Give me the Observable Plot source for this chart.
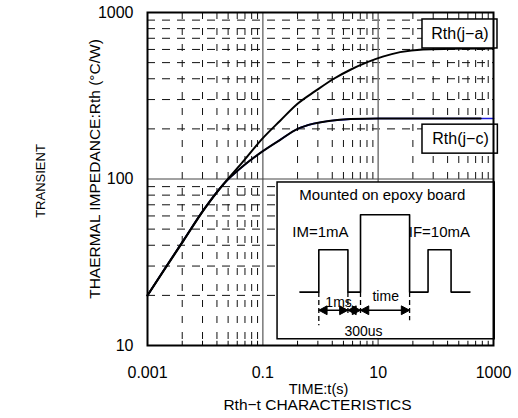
<!DOCTYPE html>
<html><head><meta charset="utf-8">
<script src="https://cdn.jsdelivr.net/npm/d3@7"></script>
<script src="https://cdn.jsdelivr.net/npm/@observablehq/plot@0.6"></script>
<style>html,body{margin:0;padding:0;background:#fff;} svg{display:block;}</style>
</head><body><div id="chart"></div>
<script>
// ---- data ----
const timeJA = [0.001, 0.0019, 0.0042, 0.0094, 0.021, 0.046, 0.1, 0.2, 0.4, 0.82, 1.7, 3.3, 6.5, 12, 24, 60, 180, 1000];
const rthJA  = [20, 28, 42.5, 65, 93.5, 128, 176, 224, 283, 338, 400, 453, 503, 543, 578, 600, 605, 608];
const timeJC = [0.001, 0.0019, 0.0042, 0.0094, 0.021, 0.046, 0.1, 0.2, 0.4, 0.76, 1.5, 3.3, 10, 100, 600];
const rthJC  = [20, 28.2, 42.8, 65.3, 93.5, 120, 147, 172, 200, 215, 224, 229, 231, 231, 231];
const timeJCext = [600, 1000];
const rthJCext  = [231, 231];

const xTicks = [0.001, 0.1, 10, 1000];
const xTickLabels = ["0.001", "0.1", "10", "1000"];
const yTicks = [10, 100, 1000];
const yTickLabels = ["10", "100", "1000"];
const xMajorGrid = [0.1, 10];
const yMajorGrid = [100];
const xMinorGrid = [0.001, 0.1, 10].flatMap(b => [2,3,4,5,6,7,8,9].map(k => b * k * k));
const yMinorGrid = [10, 100].flatMap(b => [2,3,4,5,6,7,8,9].map(k => b * k));

const seriesLabels = ["Rth(j\u2212a)", "Rth(j\u2212c)"];
const xTitle = "TIME:t(s)";
const yTitle = "THAERMAL IMPEDANCE:Rth (\u00B0C/W)";
const sideTitle = "TRANSIENT";
const caption = "Rth\u2212t CHARACTERISTICS";
const insetTexts = ["Mounted on epoxy board", "IM=1mA", "IF=10mA", "1ms", "time", "300us"];

// ---- build tables ----
const ja = timeJA.map((t, i) => ({t, r: rthJA[i]}));
const jc = timeJC.map((t, i) => ({t, r: rthJC[i]}));
const jcBlue = [...jc, ...timeJCext.map((t, i) => ({t, r: rthJCext[i]}))];

// label boxes (in data units)
const labelBoxes = [
  {x1: 58.7, x2: 1173, y1: 608, y2: 908, tx: 262, ty: 743, text: seriesLabels[0]},
  {x1: 58.7, x2: 1190, y1: 142, y2: 212, tx: 268, ty: 174, text: seriesLabels[1]}
];

// inset frame in data units, inner elements in box fractions
const inset = {t0: 0.18, t1: 1050, v0: 10.9, v1: 95.3};
const IT = u => inset.t0 * Math.pow(inset.t1 / inset.t0, u);
const IV = w => inset.v0 * Math.pow(inset.v1 / inset.v0, w);
const P = ([u, w]) => ({t: IT(u), v: IV(w)});

const wave = [[0.103,0.301],[0.190,0.301],[0.190,0.571],[0.324,0.571],[0.324,0.301],[0.382,0.301],
  [0.382,0.794],[0.608,0.794],[0.608,0.301],[0.693,0.301],[0.693,0.571],[0.799,0.571],[0.799,0.301],[0.886,0.301]].map(P);
const dashes = [[0.190,0.301,0.089],[0.324,0.301,0.159],[0.382,0.301,0.159],[0.608,0.301,0.121]]
  .map(([u,a,b]) => ({t: IT(u), va: IV(a), vb: IV(b)}));
const wa = 0.185, hl = 0.038, hw = 0.028;
const segs = [[0.190,0.324],[0.324,0.382],[0.382,0.608]];
const shafts = segs.map(([a,b]) => ({t1: IT(a), t2: IT(b), v: IV(wa)}));
const heads = segs.flatMap(([a,b], i) => [
  ...[[a,wa],[a+hl,wa+hw],[a+hl,wa-hw],[a,wa]].map(p => ({...P(p), z: "L"+i})),
  ...[[b,wa],[b-hl,wa+hw],[b-hl,wa-hw],[b,wa]].map(p => ({...P(p), z: "R"+i}))
]);
const insetStart = [
  {...P([0.068,0.683]), text: insetTexts[1]},
  {...P([0.604,0.683]), text: insetTexts[2]}
];
const insetMiddle = [
  {...P([0.4825,0.917]), text: insetTexts[0], size: 15},
  {...P([0.281,0.236]), text: insetTexts[3], size: 14},
  {...P([0.498,0.274]), text: insetTexts[4], size: 14},
  {...P([0.396,0.051]), text: insetTexts[5], size: 14}
];

const chart = Plot.plot({
  width: 518, height: 418,
  marginLeft: 147, marginRight: 25, marginTop: 12, marginBottom: 73,
  x: {type: "log", domain: [0.001, 1000], axis: null},
  y: {type: "log", domain: [10, 1000], axis: null},
  style: {fontFamily: "'Liberation Sans', Arial, sans-serif", fontSize: "16px", background: "#fff", color: "#000", overflow: "visible"},
  marks: [
    Plot.ruleY(yMinorGrid, {stroke: "#111", strokeWidth: 1, strokeDasharray: "8,7"}),
    Plot.ruleX(xMinorGrid, {stroke: "#111", strokeWidth: 1, strokeDasharray: "7,9"}),
    Plot.ruleX(xMajorGrid, {stroke: "#808080", strokeWidth: 1.6}),
    Plot.ruleY(yMajorGrid, {stroke: "#444", strokeWidth: 1.2}),
    Plot.line(jcBlue, {x: "t", y: "r", stroke: "#1a1adb", strokeWidth: 1.6, curve: "monotone-x"}),
    Plot.line(jc, {x: "t", y: "r", stroke: "#000", strokeWidth: 2, curve: "monotone-x"}),
    Plot.line(ja, {x: "t", y: "r", stroke: "#000", strokeWidth: 2, curve: "monotone-x"}),
    Plot.rect(labelBoxes, {x1: "x1", x2: "x2", y1: "y1", y2: "y2", fill: "#fff", stroke: "#000", strokeWidth: 1.5}),
    Plot.text(labelBoxes, {x: "tx", y: "ty", text: "text", fontSize: 16}),
    // inset
    Plot.rect([{}], {x1: () => IT(0), x2: () => IT(1), y1: () => IV(0), y2: () => IV(1), fill: "#fff", stroke: "#000", strokeWidth: 1.5}),
    Plot.line(wave, {x: "t", y: "v", stroke: "#000", strokeWidth: 1.6}),
    Plot.link(dashes, {x1: "t", x2: "t", y1: "va", y2: "vb", stroke: "#000", strokeWidth: 1.3, strokeDasharray: "5,3"}),
    Plot.link(shafts, {x1: "t1", x2: "t2", y1: "v", y2: "v", stroke: "#000", strokeWidth: 1.5}),
    Plot.line(heads, {x: "t", y: "v", z: "z", fill: "#000", stroke: "#000", strokeWidth: 1}),
    Plot.text(insetStart, {x: "t", y: "v", text: "text", textAnchor: "start", fontSize: 15}),
    Plot.text(insetMiddle, {x: "t", y: "v", text: "text", textAnchor: "middle", fontSize: "size"}),
    // bottom inward ticks
    Plot.ruleX(xMinorGrid, {y1: 10, y2: 10.6, stroke: "#000", strokeWidth: 1}),
    Plot.frame({stroke: "#000", strokeWidth: 2}),
    // tick labels
    Plot.text(xTicks, {x: d => d, y: () => 10, text: (d, i) => xTickLabels[i], dy: 27, fontSize: 16}),
    Plot.text(yTicks, {x: () => 0.001, y: d => d, text: (d, i) => yTickLabels[i], dx: -14, textAnchor: "end", fontSize: 16}),
    // titles
    Plot.text([xTitle], {frameAnchor: "bottom", lineAnchor: "middle", dy: 44, dx: -2, fontSize: 14.5}),
    Plot.text([caption], {frameAnchor: "bottom", lineAnchor: "middle", dy: 60, dx: -3, fontSize: 15.5}),
    Plot.text([yTitle], {frameAnchor: "left", lineAnchor: "middle", dx: -52, dy: -10, rotate: -90, textAnchor: "middle", fontSize: 15.5}),
    Plot.text([sideTitle], {frameAnchor: "left", lineAnchor: "middle", dx: -107, dy: 2, rotate: -90, textAnchor: "middle", fontSize: 13})
  ]
});
document.getElementById("chart").appendChild(chart);
</script>
</body></html>
